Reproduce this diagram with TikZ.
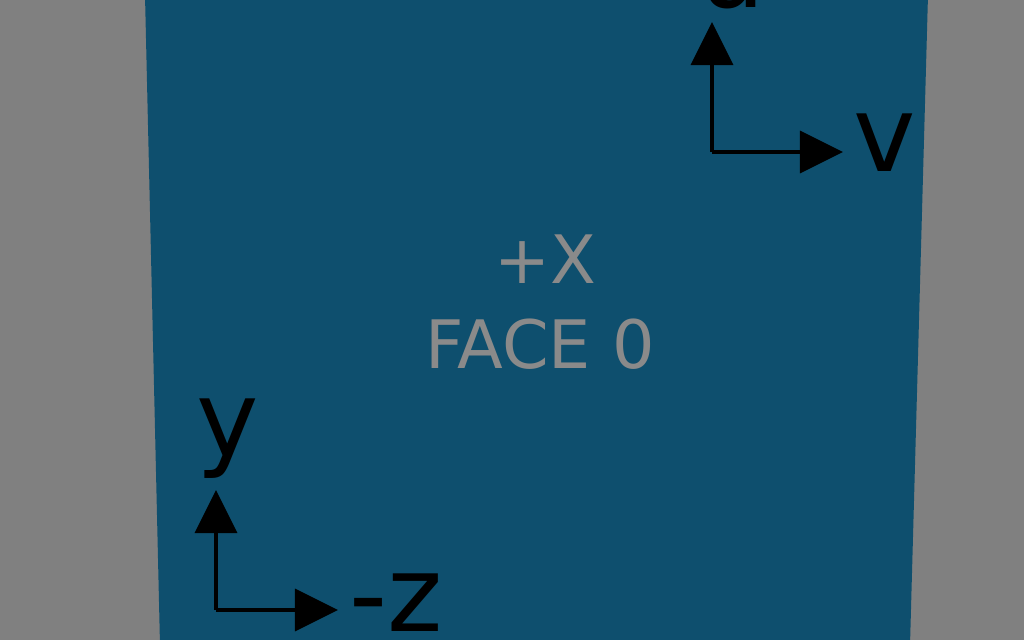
\documentclass[tikz,border=0pt]{standalone}
\usepackage{fontspec}
\setmainfont{DejaVu Sans}
\usetikzlibrary{arrows.meta}
\definecolor{facebg}{RGB}{128,128,128}
\definecolor{faceblue}{RGB}{14,79,110}
\definecolor{facetext}{RGB}{138,138,138}
\begin{document}
\begin{tikzpicture}[
    x=0.01cm, y=-0.01cm,
    axis/.style={
        draw=black,
        line width=1pt,
        -{Triangle[width=0.42cm,length=0.43cm]}
    },
    axislabel/.style={
        text=black,
        inner sep=0pt,
        anchor=base west,
        font=\fontsize{30}{30}\selectfont
    },
    facelabel/.style={
        text=facetext,
        inner sep=0pt,
        anchor=base,
        font=\fontsize{19}{19}\selectfont
    }
]
% background and face
\fill[facebg] (0,0) rectangle (1024,640);
\useasboundingbox (0,0) rectangle (1024,640);
\fill[faceblue] (145,-5) -- (928,-5) -- (910,645) -- (160,645) -- cycle;

% face name
\node[facelabel] (sign) at (545,284) {+X};
\node[facelabel] (face) at (540,369) {FACE 0};

% texture axes (top right)
\coordinate (uvorigin) at (712,152);
\coordinate (utip) at (712,22);
\coordinate (vtip) at (843,152);
\draw[axis] (uvorigin) -- (utip);
\draw[axis] (uvorigin) -- (vtip);
\node[axislabel] (ulabel) at (698,8) {u};
\node[axislabel] (vlabel) at (853,172) {v};

% world axes (bottom left)
\coordinate (yzorigin) at (216,610);
\coordinate (ytip) at (216,490);
\coordinate (ztip) at (338,610);
\draw[axis] (yzorigin) -- (ytip);
\draw[axis] (yzorigin) -- (ztip);
\node[axislabel] (ylabel) at (196,457) {y};
\node[axislabel] (zlabel) at (349,631) {-z};
\end{tikzpicture}
\end{document}
